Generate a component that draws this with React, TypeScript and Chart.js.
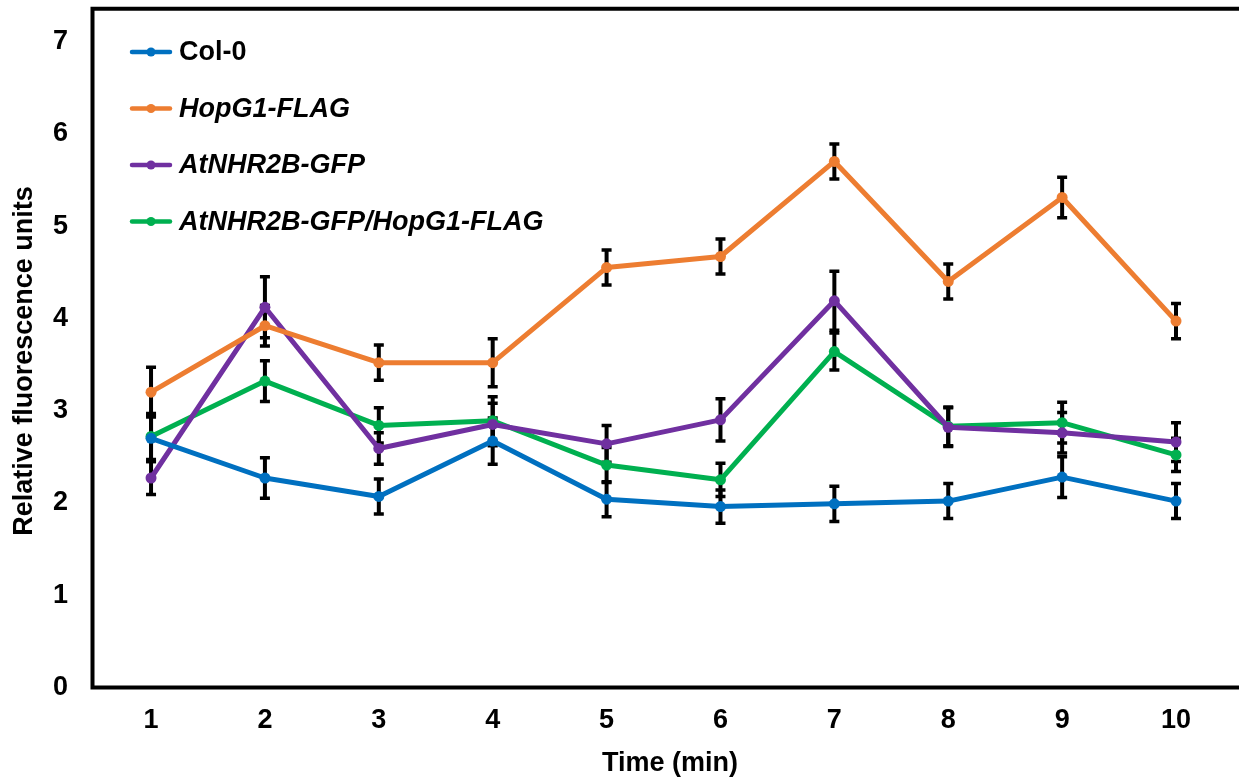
import { useEffect, useRef } from "react";
import { Chart, registerables } from "chart.js";

Chart.register(...registerables);

const TIMES = [1, 2, 3, 4, 5, 6, 7, 8, 9, 10];
const X_TICK_LABELS = ["1", "2", "3", "4", "5", "6", "7", "8", "9", "10"];
const Y_TICKS = [0, 1, 2, 3, 4, 5, 6, 7];
const X_TITLE = "Time (min)";
const Y_TITLE = "Relative fluorescence units";

const SERIES_NAMES = ["Col-0", "HopG1-FLAG", "AtNHR2B-GFP", "AtNHR2B-GFP/HopG1-FLAG"];
const SERIES_ITALIC = [false, true, true, true];
const SERIES_COLORS = ["#0070C0", "#ED7D31", "#7030A0", "#00B050"];

const COL0 = [2.7, 2.27, 2.07, 2.67, 2.04, 1.96, 1.99, 2.02, 2.28, 2.02];
const COL0_ERR = [0.25, 0.22, 0.19, 0.25, 0.19, 0.18, 0.19, 0.19, 0.22, 0.19];
const HOPG1 = [3.2, 3.92, 3.52, 3.52, 4.55, 4.67, 5.7, 4.4, 5.31, 3.97];
const HOPG1_ERR = [0.27, 0.22, 0.19, 0.26, 0.19, 0.19, 0.19, 0.19, 0.22, 0.19];
const NHR2B = [2.27, 4.12, 2.59, 2.85, 2.64, 2.9, 4.19, 2.82, 2.76, 2.66];
const NHR2B_ERR = [0.18, 0.33, 0.17, 0.23, 0.2, 0.23, 0.32, 0.21, 0.22, 0.21];
const BOTH = [2.72, 3.32, 2.84, 2.89, 2.41, 2.25, 3.64, 2.83, 2.87, 2.52];
const BOTH_ERR = [0.25, 0.22, 0.19, 0.26, 0.19, 0.18, 0.2, 0.21, 0.22, 0.18];

const SERIES_VALUES = [COL0, HOPG1, NHR2B, BOTH];
const SERIES_ERRORS = [COL0_ERR, HOPG1_ERR, NHR2B_ERR, BOTH_ERR];

const FONT_FAMILY = "'Liberation Sans', Arial, sans-serif";
const FONT_SIZE = 27;

const W = 1239;
const H = 782;

export default function App() {
  const ref = useRef<HTMLCanvasElement | null>(null);

  useEffect(() => {
    const canvas = ref.current;
    if (!canvas) return;

    const customPlugin = {
      id: "customDecor",
      beforeDatasetsDraw(chart: any) {
        const ctx = chart.ctx;
        const xs = chart.scales.x;
        const ys = chart.scales.y;
        ctx.save();
        ctx.strokeStyle = "#000000";
        SERIES_VALUES.forEach((vals, si) => {
          const errs = SERIES_ERRORS[si];
          vals.forEach((v, j) => {
            const px = xs.getPixelForValue(TIMES[j]);
            const top = ys.getPixelForValue(v + errs[j]);
            const bot = ys.getPixelForValue(v - errs[j]);
            ctx.lineWidth = 4;
            ctx.beginPath();
            ctx.moveTo(px, top);
            ctx.lineTo(px, bot);
            ctx.stroke();
            ctx.lineWidth = 3.5;
            ctx.beginPath();
            ctx.moveTo(px - 5, top);
            ctx.lineTo(px + 5, top);
            ctx.moveTo(px - 5, bot);
            ctx.lineTo(px + 5, bot);
            ctx.stroke();
          });
        });
        ctx.restore();
      },
      afterDraw(chart: any) {
        const ctx = chart.ctx;
        const a = chart.chartArea;
        ctx.save();
        // frame: left, top, bottom
        ctx.strokeStyle = "#000000";
        ctx.lineWidth = 4;
        ctx.lineCap = "butt";
        ctx.beginPath();
        ctx.moveTo(W + 2, a.top);
        ctx.lineTo(a.left, a.top);
        ctx.lineTo(a.left, a.bottom);
        ctx.lineTo(W + 2, a.bottom);
        ctx.stroke();

        // legend
        const legendYs = [52, 108.5, 165, 221.5];
        SERIES_NAMES.forEach((name, i) => {
          const y = legendYs[i];
          ctx.strokeStyle = SERIES_COLORS[i];
          ctx.fillStyle = SERIES_COLORS[i];
          ctx.lineWidth = 4.5;
          ctx.lineCap = "round";
          ctx.beginPath();
          ctx.moveTo(132, y);
          ctx.lineTo(170, y);
          ctx.stroke();
          ctx.beginPath();
          ctx.arc(151, y, 4.5, 0, Math.PI * 2);
          ctx.fill();
          ctx.fillStyle = "#000000";
          ctx.font = `${SERIES_ITALIC[i] ? "italic " : ""}bold ${FONT_SIZE}px ${FONT_FAMILY}`;
          ctx.textAlign = "left";
          ctx.textBaseline = "middle";
          ctx.fillText(name, 179, y + 1);
        });

        // axis titles
        ctx.fillStyle = "#000000";
        ctx.font = `bold ${FONT_SIZE}px ${FONT_FAMILY}`;
        ctx.textAlign = "center";
        ctx.textBaseline = "middle";
        ctx.fillText(X_TITLE, 670, 764);
        ctx.save();
        ctx.translate(24, 361);
        ctx.rotate(-Math.PI / 2);
        ctx.fillText(Y_TITLE, 0, 1);
        ctx.restore();
        ctx.restore();
      },
    };

    const chart = new Chart(canvas, {
      type: "line",
      data: {
        datasets: SERIES_NAMES.map((name, i) => ({
          label: name,
          data: SERIES_VALUES[i].map((v, j) => ({ x: TIMES[j], y: v })),
          borderColor: SERIES_COLORS[i],
          backgroundColor: SERIES_COLORS[i],
          pointBackgroundColor: SERIES_COLORS[i],
          pointBorderColor: SERIES_COLORS[i],
          borderWidth: 5,
          pointRadius: 5.5,
          pointBorderWidth: 0,
          tension: 0,
          fill: false,
          borderJoinStyle: "round" as const,
          borderCapStyle: "round" as const,
        })),
      },
      options: {
        responsive: false,
        animation: false,
        devicePixelRatio: 1,
        layout: { autoPadding: false, padding: { top: 8.8, left: 0, right: 0, bottom: 0 } },
        plugins: {
          legend: { display: false },
          tooltip: { enabled: false },
          title: { display: false },
        },
        scales: {
          x: {
            type: "linear",
            min: 0.486,
            max: 10.553,
            afterBuildTicks: (scale: any) => {
              scale.ticks = TIMES.map((v) => ({ value: v }));
            },
            afterFit: (scale: any) => {
              scale.height = H - 687.5;
              scale.paddingLeft = 0;
              scale.paddingRight = 0;
            },
            grid: { display: false, drawTicks: false },
            border: { display: false },
            ticks: {
              padding: 17,
              color: "#000000",
              font: { family: FONT_FAMILY, size: FONT_SIZE, weight: "bold" },
              callback: (value: any) => X_TICK_LABELS[TIMES.indexOf(Number(value))] ?? "",
            },
          },
          y: {
            type: "linear",
            min: 0,
            max: 7.354,
            afterBuildTicks: (scale: any) => {
              scale.ticks = Y_TICKS.map((v) => ({ value: v }));
            },
            afterFit: (scale: any) => {
              scale.width = 92.5;
              scale.paddingTop = 0;
              scale.paddingBottom = 0;
            },
            grid: { display: false, drawTicks: false },
            border: { display: false },
            ticks: {
              padding: 24.5,
              color: "#000000",
              font: { family: FONT_FAMILY, size: FONT_SIZE, weight: "bold" },
              callback: (value: any) => String(value),
            },
          },
        },
      },
      plugins: [customPlugin],
    } as any);

    return () => {
      chart.destroy();
    };
  }, []);

  return (
    <div style={{ position: "fixed", left: 0, top: 0, width: W, height: H, background: "#ffffff", overflow: "hidden" }}>
      <canvas ref={ref} width={W} height={H} style={{ width: W, height: H, display: "block" }} />
    </div>
  );
}
